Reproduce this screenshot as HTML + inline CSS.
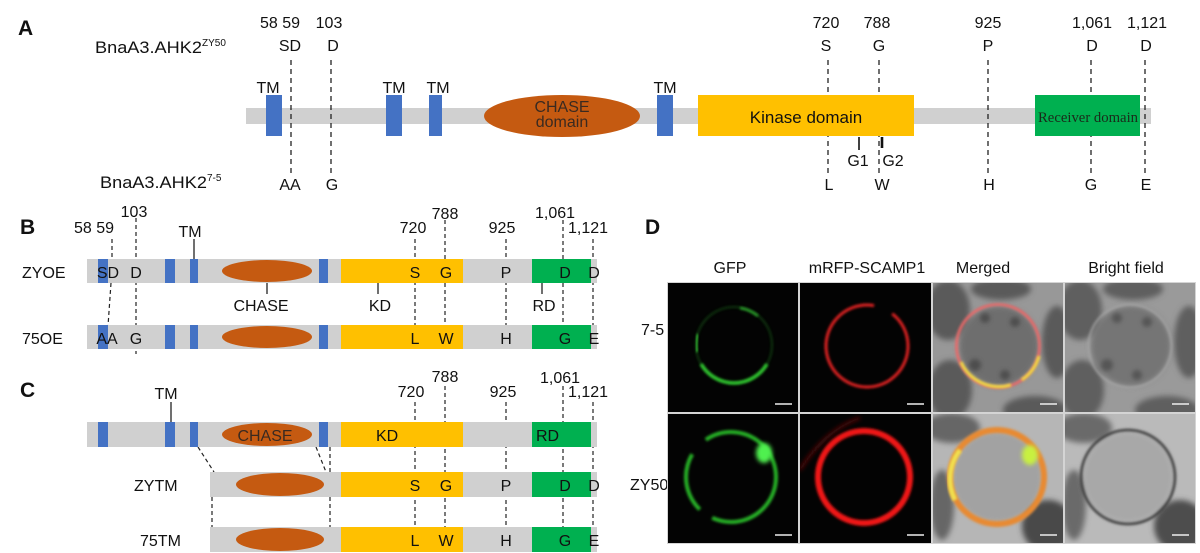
<!DOCTYPE html>
<html><head><meta charset="utf-8">
<style>
html,body{margin:0;padding:0;background:#fff;}
svg{display:block;}
text{font-family:"Liberation Sans",Arial,sans-serif;fill:#111;}
.s{font-family:"Liberation Serif","Times New Roman",serif;}
.m{text-anchor:middle;}
</style></head><body>
<svg width="1200" height="553" viewBox="0 0 1200 553" xmlns="http://www.w3.org/2000/svg">
<defs>
 <filter id="b1" x="-30%" y="-30%" width="160%" height="160%"><feGaussianBlur stdDeviation="1.2"/></filter>
 <filter id="b2" x="-30%" y="-30%" width="160%" height="160%"><feGaussianBlur stdDeviation="2"/></filter>
 <filter id="b3" x="-30%" y="-30%" width="160%" height="160%"><feGaussianBlur stdDeviation="3"/></filter>
 <filter id="b4" x="-30%" y="-30%" width="160%" height="160%"><feGaussianBlur stdDeviation="4"/></filter>
 <clipPath id="c11"><rect x="668" y="283" width="130" height="129"/></clipPath>
 <clipPath id="c12"><rect x="800" y="283" width="131" height="129"/></clipPath>
 <clipPath id="c13"><rect x="933" y="283" width="130" height="129"/></clipPath>
 <clipPath id="c14"><rect x="1065" y="283" width="130" height="129"/></clipPath>
 <clipPath id="c21"><rect x="668" y="414" width="130" height="129"/></clipPath>
 <clipPath id="c22"><rect x="800" y="414" width="131" height="129"/></clipPath>
 <clipPath id="c23"><rect x="933" y="414" width="130" height="129"/></clipPath>
 <clipPath id="c24"><rect x="1065" y="414" width="130" height="129"/></clipPath>
</defs>

<!-- ================= PANEL A ================= -->
<text x="18" y="35" font-size="21" font-weight="bold">A</text>
<text x="95" y="53" font-size="17" textLength="107" lengthAdjust="spacingAndGlyphs">BnaA3.AHK2</text>
<text x="202" y="46" font-size="10">ZY50</text>
<text x="100" y="188" font-size="17" textLength="107" lengthAdjust="spacingAndGlyphs">BnaA3.AHK2</text>
<text x="207" y="181" font-size="10">7-5</text>

<rect x="246" y="108" width="905" height="16" fill="#d0d0d0"/>
<g stroke="#222" stroke-width="1.3" stroke-dasharray="5,4">
 <line x1="291" y1="60" x2="291" y2="173"/>
 <line x1="331" y1="60" x2="331" y2="173"/>
 <line x1="828" y1="60" x2="828" y2="173"/>
 <line x1="879" y1="60" x2="879" y2="173"/>
 <line x1="988" y1="60" x2="988" y2="173"/>
 <line x1="1091" y1="60" x2="1091" y2="173"/>
 <line x1="1145" y1="60" x2="1145" y2="173"/>
</g>
<g fill="#4472c4">
 <rect x="266" y="95" width="16" height="41"/>
 <rect x="386" y="95" width="16" height="41"/>
 <rect x="429" y="95" width="13" height="41"/>
 <rect x="657" y="95" width="16" height="41"/>
</g>
<ellipse cx="562" cy="116" rx="78" ry="21" fill="#c55a11"/>
<text x="562" y="112" font-size="16" class="m" style="fill:#3a2a20">CHASE</text>
<text x="562" y="127" font-size="16" class="m" style="fill:#3a2a20">domain</text>
<rect x="698" y="95" width="216" height="41" fill="#ffc000"/>
<text x="806" y="123" font-size="17" class="m">Kinase domain</text>
<rect x="1035" y="95" width="105" height="41" fill="#00b050"/>
<text x="1088" y="122" font-size="14.5" class="s m" textLength="100" lengthAdjust="spacingAndGlyphs" style="fill:#1a2a1a">Receiver domain</text>

<g font-size="16" class="m">
 <text x="280" y="28" class="m">58 59</text>
 <text x="329" y="28" class="m">103</text>
 <text x="826" y="28" class="m">720</text>
 <text x="877" y="28" class="m">788</text>
 <text x="988" y="28" class="m">925</text>
 <text x="1092" y="28" class="m">1,061</text>
 <text x="1147" y="28" class="m">1,121</text>
 <text x="290" y="51" class="m">SD</text>
 <text x="333" y="51" class="m">D</text>
 <text x="826" y="51" class="m">S</text>
 <text x="879" y="51" class="m">G</text>
 <text x="988" y="51" class="m">P</text>
 <text x="1092" y="51" class="m">D</text>
 <text x="1146" y="51" class="m">D</text>
 <text x="268" y="93" class="m">TM</text>
 <text x="394" y="93" class="m">TM</text>
 <text x="438" y="93" class="m">TM</text>
 <text x="665" y="93" class="m">TM</text>
 <text x="858" y="166" class="m">G1</text>
 <text x="893" y="166" class="m">G2</text>
 <text x="290" y="190" class="m">AA</text>
 <text x="332" y="190" class="m">G</text>
 <text x="829" y="190" class="m">L</text>
 <text x="882" y="190" class="m">W</text>
 <text x="989" y="190" class="m">H</text>
 <text x="1091" y="190" class="m">G</text>
 <text x="1146" y="190" class="m">E</text>
</g>
<line x1="859" y1="137" x2="859" y2="150" stroke="#111" stroke-width="1.6"/>
<line x1="882" y1="137" x2="882" y2="148" stroke="#111" stroke-width="2.6"/>

<!-- ================= PANEL B ================= -->
<text x="20" y="234" font-size="21" font-weight="bold">B</text>
<g stroke="#222" stroke-width="1.2" stroke-dasharray="4,3">
 <line x1="112" y1="239" x2="112" y2="262"/>
 <line x1="111" y1="283" x2="108" y2="326"/>
 <line x1="136" y1="218" x2="136" y2="354"/>
 <line x1="415" y1="239" x2="415" y2="326"/>
 <line x1="445" y1="220" x2="445" y2="326"/>
 <line x1="506" y1="239" x2="506" y2="326"/>
 <line x1="563" y1="220" x2="563" y2="326"/>
 <line x1="593" y1="239" x2="593" y2="326"/>
</g>
<g>
 <rect x="87" y="259" width="510" height="24" fill="#d0d0d0"/>
 <g fill="#4472c4">
  <rect x="98" y="259" width="10" height="24"/>
  <rect x="165" y="259" width="10" height="24"/>
  <rect x="190" y="259" width="8" height="24"/>
  <rect x="319" y="259" width="9" height="24"/>
 </g>
 <ellipse cx="267" cy="271" rx="45" ry="11" fill="#c55a11"/>
 <rect x="341" y="259" width="122" height="24" fill="#ffc000"/>
 <rect x="532" y="259" width="59" height="24" fill="#00b050"/>
</g>
<g transform="translate(0,66)">
 <rect x="87" y="259" width="510" height="24" fill="#d0d0d0"/>
 <g fill="#4472c4">
  <rect x="98" y="259" width="10" height="24"/>
  <rect x="165" y="259" width="10" height="24"/>
  <rect x="190" y="259" width="8" height="24"/>
  <rect x="319" y="259" width="9" height="24"/>
 </g>
 <ellipse cx="267" cy="271" rx="45" ry="11" fill="#c55a11"/>
 <rect x="341" y="259" width="122" height="24" fill="#ffc000"/>
 <rect x="532" y="259" width="59" height="24" fill="#00b050"/>
</g>
<g stroke="#111" stroke-width="1.2">
 <line x1="194" y1="239" x2="194" y2="259"/>
 <line x1="267" y1="283" x2="267" y2="294"/>
 <line x1="378" y1="283" x2="378" y2="294"/>
 <line x1="542" y1="283" x2="542" y2="294"/>
</g>
<g font-size="16">
 <text x="22" y="278">ZYOE</text>
 <text x="22" y="344">75OE</text>
 <text x="94" y="233" class="m">58 59</text>
 <text x="134" y="217" class="m">103</text>
 <text x="190" y="237" class="m">TM</text>
 <text x="413" y="233" class="m">720</text>
 <text x="445" y="219" class="m">788</text>
 <text x="502" y="233" class="m">925</text>
 <text x="555" y="218" class="m">1,061</text>
 <text x="588" y="233" class="m">1,121</text>
 <text x="261" y="311" class="m">CHASE</text>
 <text x="380" y="311" class="m">KD</text>
 <text x="544" y="311" class="m">RD</text>
 <text x="108" y="278" class="m">SD</text>
 <text x="136" y="278" class="m">D</text>
 <text x="415" y="278" class="m">S</text>
 <text x="446" y="278" class="m">G</text>
 <text x="506" y="278" class="m">P</text>
 <text x="565" y="278" class="m">D</text>
 <text x="594" y="278" class="m">D</text>
 <text x="107" y="344" class="m">AA</text>
 <text x="136" y="344" class="m">G</text>
 <text x="415" y="344" class="m">L</text>
 <text x="446" y="344" class="m">W</text>
 <text x="506" y="344" class="m">H</text>
 <text x="565" y="344" class="m">G</text>
 <text x="594" y="344" class="m">E</text>
</g>

<!-- ================= PANEL C ================= -->
<text x="20" y="397" font-size="21" font-weight="bold">C</text>
<g stroke="#222" stroke-width="1.2" stroke-dasharray="4,3">
 <line x1="415" y1="402" x2="415" y2="528"/>
 <line x1="445" y1="386" x2="445" y2="528"/>
 <line x1="506" y1="402" x2="506" y2="528"/>
 <line x1="563" y1="386" x2="563" y2="528"/>
 <line x1="593" y1="402" x2="593" y2="528"/>
 <line x1="198" y1="447" x2="214" y2="472"/>
 <line x1="316" y1="447" x2="326" y2="472"/>
 <line x1="330" y1="447" x2="330" y2="472"/>
 <line x1="212" y1="497" x2="212" y2="527"/>
 <line x1="330" y1="497" x2="330" y2="527"/>
</g>
<rect x="87" y="422" width="510" height="25" fill="#d0d0d0"/>
<g fill="#4472c4">
 <rect x="98" y="422" width="10" height="25"/>
 <rect x="165" y="422" width="10" height="25"/>
 <rect x="190" y="422" width="8" height="25"/>
 <rect x="319" y="422" width="9" height="25"/>
</g>
<ellipse cx="267" cy="434.5" rx="45" ry="11.5" fill="#c55a11"/>
<rect x="341" y="422" width="122" height="25" fill="#ffc000"/>
<rect x="532" y="422" width="59" height="25" fill="#00b050"/>

<rect x="210" y="472" width="387" height="25" fill="#d0d0d0"/>
<ellipse cx="280" cy="484.5" rx="44" ry="11.5" fill="#c55a11"/>
<rect x="341" y="472" width="122" height="25" fill="#ffc000"/>
<rect x="532" y="472" width="59" height="25" fill="#00b050"/>

<rect x="210" y="527" width="387" height="25" fill="#d0d0d0"/>
<ellipse cx="280" cy="539.5" rx="44" ry="11.5" fill="#c55a11"/>
<rect x="341" y="527" width="122" height="25" fill="#ffc000"/>
<rect x="532" y="527" width="59" height="25" fill="#00b050"/>

<line x1="171" y1="402" x2="171" y2="422" stroke="#111" stroke-width="1.2"/>
<g font-size="16">
 <text x="166" y="399" class="m">TM</text>
 <text x="411" y="397" class="m">720</text>
 <text x="445" y="382" class="m">788</text>
 <text x="503" y="397" class="m">925</text>
 <text x="560" y="383" class="m">1,061</text>
 <text x="588" y="397" class="m">1,121</text>
 <text x="265" y="441" class="m" style="fill:#3a2a20">CHASE</text>
 <text x="376" y="441">KD</text>
 <text x="536" y="441">RD</text>
 <text x="134" y="491">ZYTM</text>
 <text x="140" y="546">75TM</text>
 <text x="415" y="491" class="m">S</text>
 <text x="446" y="491" class="m">G</text>
 <text x="506" y="491" class="m">P</text>
 <text x="565" y="491" class="m">D</text>
 <text x="594" y="491" class="m">D</text>
 <text x="415" y="546" class="m">L</text>
 <text x="446" y="546" class="m">W</text>
 <text x="506" y="546" class="m">H</text>
 <text x="565" y="546" class="m">G</text>
 <text x="594" y="546" class="m">E</text>
</g>

<!-- ================= PANEL D ================= -->
<text x="645" y="234" font-size="21" font-weight="bold">D</text>
<g font-size="16">
 <text x="730" y="273" class="m">GFP</text>
 <text x="867" y="273" class="m">mRFP-SCAMP1</text>
 <text x="983" y="273" class="m">Merged</text>
 <text x="1126" y="273" class="m">Bright field</text>
 <text x="641" y="335">7-5</text>
 <text x="630" y="490">ZY50</text>
</g>
<rect x="667" y="282" width="529" height="262" fill="#d4d4d4"/>

<!-- r1c1 GFP 7-5 -->
<g clip-path="url(#c11)">
 <rect x="668" y="283" width="130" height="129" fill="#030303"/>
 <circle cx="734" cy="345" r="38" fill="none" stroke="#1a6a1a" stroke-width="2" opacity="0.5" filter="url(#b1)"/>
 <path d="M766.9,364 A38,38 0 0 1 701.1,364" fill="none" stroke="#2fc42f" stroke-width="3.5" filter="url(#b1)"/>
 <path d="M697,352 A38,38 0 0 1 698,334" fill="none" stroke="#2aa02a" stroke-width="3" filter="url(#b1)"/>
 <path d="M740,308 A38,38 0 0 1 758,316" fill="none" stroke="#2aa02a" stroke-width="2.5" filter="url(#b1)"/>
</g>
<!-- r1c2 RFP 7-5 -->
<g clip-path="url(#c12)">
 <rect x="800" y="283" width="131" height="129" fill="#030303"/>
 <circle cx="867" cy="346" r="41" fill="none" stroke="#e02020" stroke-width="3" filter="url(#b1)" stroke-dasharray="200,20,40,10"/>
</g>
<!-- r1c3 Merged 7-5 -->
<g clip-path="url(#c13)">
 <rect x="933" y="283" width="130" height="129" fill="#989898"/>
 <g fill="#5a5a5a" filter="url(#b3)">
  <ellipse cx="948" cy="310" rx="22" ry="30"/>
  <ellipse cx="950" cy="390" rx="22" ry="30"/>
  <ellipse cx="1001" cy="289" rx="30" ry="11"/>
  <ellipse cx="1057" cy="342" rx="15" ry="36"/>
  <ellipse cx="1035" cy="410" rx="32" ry="14"/>
 </g>
 <circle cx="999" cy="346" r="40" fill="#6e6e6e" filter="url(#b3)"/>
 <g fill="#4e4e4e" filter="url(#b2)">
  <circle cx="985" cy="318" r="5"/><circle cx="1015" cy="322" r="5"/>
  <circle cx="975" cy="365" r="6"/><circle cx="1005" cy="375" r="5"/>
 </g>
 <circle cx="998" cy="346" r="41.5" fill="none" stroke="#f06868" stroke-width="2.6" filter="url(#b1)"/>
 <path d="M1039,356 A41.5,41.5 0 0 1 958,352" fill="none" stroke="#f0e040" stroke-width="3" filter="url(#b1)" stroke-dasharray="30,12,60"/>
</g>
<!-- r1c4 BF 7-5 -->
<g clip-path="url(#c14)">
 <rect x="1065" y="283" width="130" height="129" fill="#9a9a9a"/>
 <g fill="#5e5e5e" filter="url(#b3)">
  <ellipse cx="1080" cy="310" rx="22" ry="30"/>
  <ellipse cx="1082" cy="390" rx="22" ry="30"/>
  <ellipse cx="1133" cy="289" rx="30" ry="11"/>
  <ellipse cx="1189" cy="342" rx="15" ry="36"/>
  <ellipse cx="1167" cy="410" rx="32" ry="14"/>
 </g>
 <circle cx="1131" cy="346" r="40" fill="#747474" filter="url(#b3)"/>
 <g fill="#555" filter="url(#b2)">
  <circle cx="1117" cy="318" r="5"/><circle cx="1147" cy="322" r="5"/>
  <circle cx="1107" cy="365" r="6"/><circle cx="1137" cy="375" r="5"/>
 </g>
 <circle cx="1130" cy="346" r="41.5" fill="none" stroke="#aaaaaa" stroke-width="1.5" filter="url(#b1)"/>
</g>
<!-- r2c1 GFP ZY50 -->
<g clip-path="url(#c21)">
 <rect x="668" y="414" width="130" height="129" fill="#030303"/>
 <circle cx="731" cy="477" r="45" fill="none" stroke="#28b028" stroke-width="4" filter="url(#b1)" stroke-dasharray="90,15,60,20,120"/>
 <ellipse cx="764" cy="453" rx="8" ry="10" fill="#50f050" filter="url(#b2)"/>
</g>
<!-- r2c2 RFP ZY50 -->
<g clip-path="url(#c22)">
 <rect x="800" y="414" width="131" height="129" fill="#030303"/>
 <path d="M800,470 Q825,430 860,418" fill="none" stroke="#5a0a0a" stroke-width="3" filter="url(#b2)"/>
 <circle cx="864" cy="477" r="46" fill="none" stroke="#f01818" stroke-width="6" filter="url(#b1)"/>
</g>
<!-- r2c3 Merged ZY50 -->
<g clip-path="url(#c23)">
 <rect x="933" y="414" width="130" height="129" fill="#b6b6b6"/>
 <g fill="#666" filter="url(#b3)">
  <ellipse cx="952" cy="428" rx="28" ry="15"/>
  <ellipse cx="942" cy="505" rx="12" ry="35"/>
 </g>
 <ellipse cx="1048" cy="526" rx="26" ry="26" fill="#4a4a4a" filter="url(#b3)"/>
 <circle cx="997" cy="477" r="45" fill="#a2a2a2" filter="url(#b3)"/>
 <circle cx="997" cy="477" r="47" fill="none" stroke="#e88a30" stroke-width="6" filter="url(#b1)"/>
 <path d="M955,500 A47,47 0 0 1 960,450" fill="none" stroke="#f0e050" stroke-width="5" filter="url(#b1)"/>
 <ellipse cx="1030" cy="455" rx="8" ry="10" fill="#c8f040" filter="url(#b2)"/>
</g>
<!-- r2c4 BF ZY50 -->
<g clip-path="url(#c24)">
 <rect x="1065" y="414" width="130" height="129" fill="#bababa"/>
 <g fill="#6a6a6a" filter="url(#b3)">
  <ellipse cx="1084" cy="428" rx="28" ry="15"/>
  <ellipse cx="1074" cy="505" rx="12" ry="35"/>
 </g>
 <ellipse cx="1180" cy="526" rx="26" ry="26" fill="#4e4e4e" filter="url(#b3)"/>
 <circle cx="1128" cy="477" r="45" fill="#a8a8a8" filter="url(#b3)"/>
 <circle cx="1128" cy="477" r="47" fill="none" stroke="#3a3a3a" stroke-width="2.5" filter="url(#b1)"/>
</g>
<!-- scale bars -->
<g stroke="#eee" stroke-width="1.5">
 <line x1="775" y1="404" x2="792" y2="404"/>
 <line x1="907" y1="404" x2="924" y2="404"/>
 <line x1="1040" y1="404" x2="1057" y2="404"/>
 <line x1="1172" y1="404" x2="1189" y2="404"/>
 <line x1="775" y1="535" x2="792" y2="535"/>
 <line x1="907" y1="535" x2="924" y2="535"/>
 <line x1="1040" y1="535" x2="1057" y2="535"/>
 <line x1="1172" y1="535" x2="1189" y2="535"/>
</g>
</svg>
</body></html>
